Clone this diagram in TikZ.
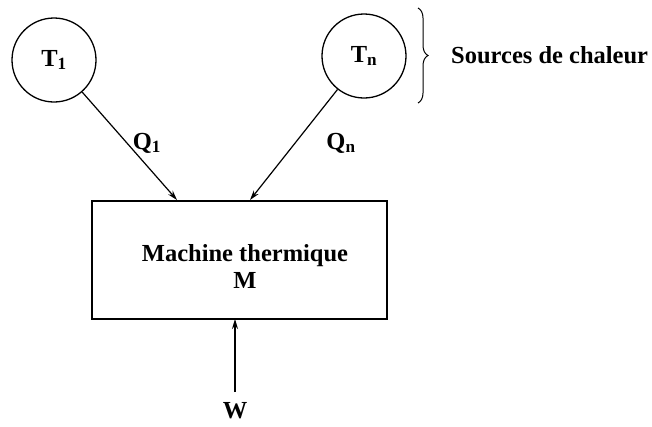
\documentclass[tikz,border=0pt]{standalone}
\usepackage{fontspec}
\setmainfont{Liberation Serif}
\usetikzlibrary{arrows.meta,decorations.pathreplacing}
\begin{document}
\begin{tikzpicture}[x=1pt,y=-1pt,
  lbl/.style={font=\fontsize{24.5}{27}\selectfont\bfseries, inner sep=0pt},
  src/.style={circle, draw, line width=1.3pt, minimum size=84pt, inner sep=0pt, font=\fontsize{24.5}{27}\selectfont\bfseries},
  flow/.style={line width=1.2pt, -{Stealth[length=10pt,width=6pt]}},
  machine/.style={draw, line width=2.2pt, minimum width=295pt, minimum height=118pt, inner sep=0pt}]
\useasboundingbox (0,0) rectangle (652,426);
\node[src] (t1) at (54,60) {T\textsubscript{1}};
\node[src] (tn) at (364,56) {T\textsubscript{n}};
\node[machine] (m) at (239.5,260) {};
\node[lbl, align=center] (mt) at (245,266) {Machine thermique\\M};
\coordinate (e1) at (177,200);
\coordinate (en) at (250,200);
\coordinate (w0) at (235,392);
\coordinate (w1) at (235,319);
\draw[flow] (t1) -- (e1);
\draw[flow] (tn) -- (en);
\draw[flow] (w0) -- (w1);
\node[lbl] (q1) at (147,143) {Q\textsubscript{1}};
\node[lbl] (qn) at (341,143) {Q\textsubscript{n}};
\node[lbl] (w) at (235,411) {W};
\coordinate (b1) at (418,8);
\coordinate (b2) at (418,103);
\draw[line width=1pt, decorate, decoration={brace, amplitude=10pt}] (b1) -- (b2);
\node[lbl, anchor=west] (sc) at (451,55) {Sources de chaleur};
\end{tikzpicture}
\end{document}
